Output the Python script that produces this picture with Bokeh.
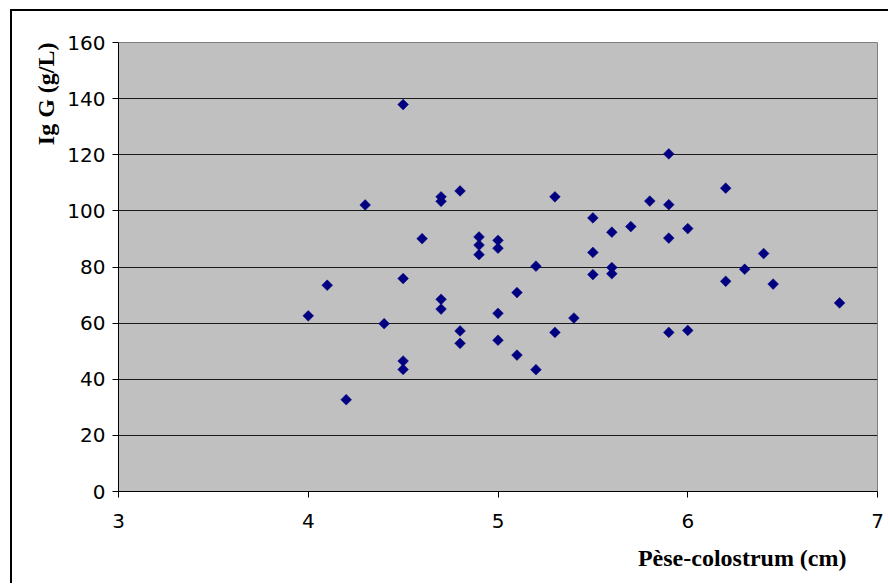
from bokeh.plotting import figure
from bokeh.models import ColumnDataSource, FixedTicker, Title, Range1d
from bokeh.embed import file_html
from bokeh.resources import INLINE
import math

# Pèse-colostrum readings (cm)
pese = [4.0, 4.1, 4.2, 4.3, 4.4, 4.5, 4.5, 4.5, 4.5, 4.6,
        4.7, 4.7, 4.7, 4.7, 4.8, 4.8, 4.8, 4.9, 4.9, 4.9,
        5.0, 5.0, 5.0, 5.0, 5.1, 5.1, 5.2, 5.2, 5.3, 5.3,
        5.4, 5.5, 5.5, 5.5, 5.6, 5.6, 5.6, 5.7, 5.8, 5.9,
        5.9, 5.9, 5.9, 6.0, 6.0, 6.2, 6.2, 6.3, 6.4, 6.45,
        6.8]
# Ig G concentration (g/L)
igg = [62.6, 73.5, 32.7, 102.1, 59.8, 137.9, 75.9, 46.5, 43.5, 90.1,
       105.0, 103.4, 68.5, 65.0, 107.1, 57.2, 52.8, 90.7, 87.8, 84.4,
       89.5, 86.7, 63.5, 53.9, 70.9, 48.6, 80.3, 43.4, 105.0, 56.7,
       61.8, 97.5, 85.2, 77.3, 92.4, 79.8, 77.6, 94.4, 103.5, 120.3,
       102.2, 90.3, 56.7, 93.7, 57.4, 108.1, 74.9, 79.2, 84.8, 73.9,
       67.2]

x_ticks = [3, 4, 5, 6, 7]
y_ticks = [0, 20, 40, 60, 80, 100, 120, 140, 160]
x_title = "Pèse-colostrum (cm)"
y_title = "Ig G (g/L)"

src = ColumnDataSource(dict(x=pese, y=igg))

p = figure(width=878, height=574, output_backend="svg", toolbar_location=None,
           x_range=Range1d(3, 7), y_range=Range1d(0, 160),
           min_border_left=106, min_border_right=13,
           min_border_top=31, min_border_bottom=94)
p.margin = (9, 0, 0, 10)
p.styles = {"border-left": "2px solid black", "border-top": "2px solid black"}

p.background_fill_color = "#C0C0C0"
p.border_fill_color = "white"
p.outline_line_color = "#808080"
p.outline_line_width = 1

p.xgrid.visible = False
p.ygrid.grid_line_color = "#1a1a1a"
p.ygrid.grid_line_width = 1

for ax in (p.xaxis[0], p.yaxis[0]):
    ax.axis_line_color = "black"
    ax.axis_line_width = 1
    ax.major_tick_line_color = "black"
    ax.major_tick_in = 0
    ax.major_tick_out = 6
    ax.minor_tick_line_color = None
    ax.major_label_text_font = "DejaVu Sans"
    ax.major_label_text_font_size = "20px"
    ax.major_label_text_color = "black"

p.xaxis.ticker = FixedTicker(ticks=x_ticks)
p.yaxis.ticker = FixedTicker(ticks=y_ticks)
p.xaxis.major_label_standoff = 16
p.yaxis.major_label_standoff = 7

p.scatter("x", "y", source=src, marker="square", size=7.6, angle=math.pi / 4,
          fill_color="#000080", line_color="#000080", line_width=0.5)

p.add_layout(Title(text=x_title, align="right", offset=31, standoff=24,
                   text_font="Liberation Serif", text_font_style="bold",
                   text_font_size="24px", text_color="black"), "below")
p.add_layout(Title(text=y_title, align="right", offset=0, standoff=12,
                   text_font="Liberation Serif", text_font_style="bold",
                   text_font_size="24px", text_color="black"), "left")

open("out.html", "w").write(file_html(p, INLINE))
